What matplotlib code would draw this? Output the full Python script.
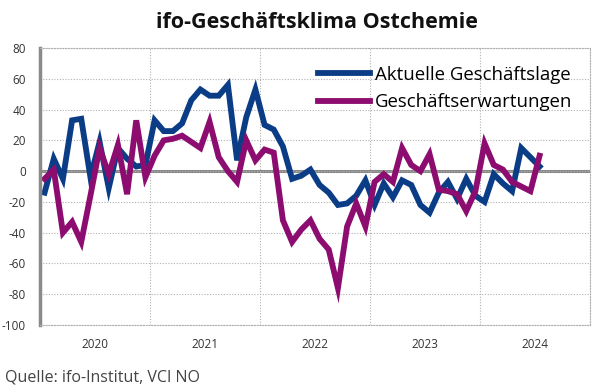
import matplotlib.pyplot as plt

plt.rcParams["font.family"] = ["Open Sans", "DejaVu Sans"]
plt.rcParams["axes.unicode_minus"] = False

# Monthly balances, Jan 2020 - Jul 2024
lage = [-14, 8, -5, 33, 34, -4, 19, -11, 15, 8, 3, 4,
        33, 26, 26, 31, 46, 53, 49, 49, 56, 7, 35, 53,
        30, 27, 16, -5, -3, 1, -9, -14, -22, -21, -16, -6,
        -22, -8, -17, -6, -9, -22, -27, -14, -7, -18, -5, -16,
        -20, -2, -8, -13, 15, 9, 3]
erwartungen = [-5, 1, -40, -33, -46, -16, 15, -2, 17, -15, 33, -4,
               10, 20, 21, 23, 19, 15, 32, 9, 0, -7, 20, 7,
               14, 12, -32, -46, -38, -32, -44, -51, -76, -36, -21, -36,
               -7, -2, -7, 15, 4, 0, 11, -12, -13, -15, -26, -13,
               18, 4, 1, -7, -10, -13, 10]
years = ["2020", "2021", "2022", "2023", "2024"]
y_ticks = list(range(-100, 81, 20))

blue = "#0b3d86"
purple = "#8c0c70"
grey = "#8a8a8a"

fig = plt.figure(figsize=(6.03, 3.90), dpi=100)
ax = fig.add_axes([40 / 603, 1 - 325 / 390, 550 / 603, 277 / 390])

x = range(len(lage))
ax.plot(x, lage, color=blue, lw=4.2, solid_joinstyle="miter",
        label="Aktuelle Geschäftslage")
ax.plot(x, erwartungen, color=purple, lw=4.2, solid_joinstyle="miter",
        label="Geschäftserwartungen")
ax.axhline(0, color=grey, lw=2.2, zorder=1)

ax.set_xlim(-0.5, 12 * len(years) - 0.5)
ax.set_ylim(-100, 80)
ax.set_yticks(y_ticks)

# year gridlines at the boundaries, labels in the middle
ax.set_xticks([12 * k - 0.5 for k in range(len(years) + 1)])
ax.set_xticks([12 * k + 5.5 for k in range(len(years))], minor=True)
ax.set_xticklabels(years, minor=True)
ax.tick_params(axis="x", which="major", length=0, labelbottom=False)
ax.tick_params(axis="x", which="minor", length=0, pad=9,
               labelsize=8.5, labelcolor="#333333")
ax.tick_params(axis="y", length=0, pad=10, labelsize=8.5,
               labelcolor="#333333")
ax.grid(True, which="major", color="#b0b0b0", lw=0.8, ls=(0, (1, 1.5)))

for side in ["top", "right", "bottom"]:
    ax.spines[side].set_color("#b0b0b0")
    ax.spines[side].set_linestyle((0, (1, 1.5)))
    ax.spines[side].set_linewidth(0.8)
ax.spines["left"].set_color(grey)
ax.spines["left"].set_linewidth(2.5)

fig.text(317 / 603, 1 - 23 / 390, "ifo-Geschäftsklima Ostchemie",
         ha="center", va="center", fontsize=15.5, fontweight="bold",
         color="#111111")

ax.legend(loc="upper left", bbox_to_anchor=(318 / 603, 1 - 66 / 390),
          bbox_transform=fig.transFigure, frameon=False, fontsize=13.4,
          handlelength=2.8, handletextpad=0.25, labelspacing=0.5,
          borderpad=0, borderaxespad=0)

fig.text(5 / 603, 1 - 378 / 390, "Quelle: ifo-Institut, VCI NO",
         ha="left", va="center", fontsize=11.5, color="#444444")

fig.savefig("out.png", dpi=100)
